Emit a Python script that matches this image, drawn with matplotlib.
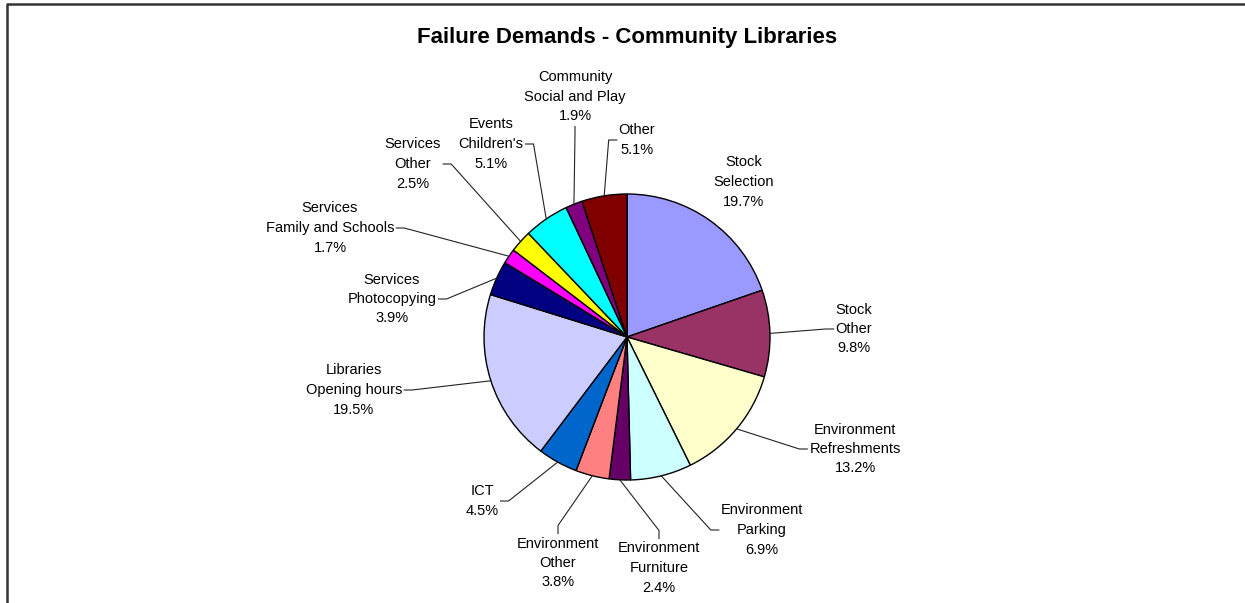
import numpy as np
import matplotlib.pyplot as plt

plt.rcParams['font.family'] = ['Liberation Sans', 'DejaVu Sans']

# slice names, shares (%) and colours, clockwise from 12 o'clock
names = ["Stock\nSelection", "Stock\nOther", "Environment\nRefreshments",
         "Environment\nParking", "Environment\nFurniture", "Environment\nOther",
         "ICT", "Libraries\nOpening hours", "Services\nPhotocopying",
         "Services\nFamily and Schools", "Services\nOther", "Events\nChildren's",
         "Community\nSocial and Play", "Other"]
shares = [19.7, 9.8, 13.2, 6.9, 2.4, 3.8, 4.5, 19.5, 3.9, 1.7, 2.5, 5.1, 1.9, 5.1]
colors = ["#9999FF", "#993366", "#FFFFCC", "#CCFFFF", "#660066", "#FF8080",
          "#0066CC", "#CCCCFF", "#000080", "#FF00FF", "#FFFF00", "#00FFFF",
          "#800080", "#800000"]

# label centres in pixels (x, y from top) and which side the leader joins
label_xy = [(744, 182), (854, 329), (855, 449), (762, 530), (659, 568), (558, 563),
            (482, 501), (354, 390), (392, 299), (330, 228), (413, 164), (491, 144),
            (575, 97), (637, 140)]
leader_side = [None, 'left', 'left', 'left', 'top', 'top', 'right', 'right',
               'right', 'right', 'right', 'right', 'bottom', 'left']

W, H = 1245, 603
fig = plt.figure(figsize=(W / 100, H / 100), dpi=100)
ax = fig.add_axes([0, 0, 1, 1])

cx, cy, r = 627, H - 337, 143
wedges, _ = ax.pie(shares, colors=colors, startangle=90, counterclock=False,
                   center=(cx, cy), radius=r,
                   wedgeprops=dict(edgecolor='black', linewidth=1))
ax.set_xlim(0, W)
ax.set_ylim(0, H)
ax.set_aspect('auto')
ax.axis('off')

# chart frame (left and top edges visible)
ax.plot([7, 7, W], [0, H - 4, H - 4], color='#333333', lw=1.8, clip_on=False)

ax.text(cx, H - 38, "Failure Demands - Community Libraries", ha='center',
        va='center', fontsize=16, fontweight='bold')

texts = []
for name, val, (x, y) in zip(names, shares, label_xy):
    t = ax.text(x, H - y, f"{name}\n{val:.1f}%", ha='center', va='center',
                multialignment='center', fontsize=10.5, linespacing=1.5)
    texts.append(t)

fig.canvas.draw()
renderer = fig.canvas.get_renderer()
inv = ax.transData.inverted()

for w, t, side in zip(wedges, texts, leader_side):
    if side is None:
        continue
    bb = t.get_window_extent(renderer)
    (x0, y0), (x1, y1) = inv.transform([[bb.x0, bb.y0], [bb.x1, bb.y1]])
    mx, my = (x0 + x1) / 2, (y0 + y1) / 2
    ang = np.deg2rad((w.theta1 + w.theta2) / 2)
    px, py = cx + r * np.cos(ang), cy + r * np.sin(ang)
    if side == 'left':
        ex, ey = x0 - 2, my
        kx, ky = ex - 8, ey
    elif side == 'right':
        ex, ey = x1 + 2, my
        kx, ky = ex + 8, ey
    elif side == 'top':
        ex, ey = mx, y1 + 3
        kx, ky = ex, ey + 8
    else:
        ex, ey = mx, y0 - 3
        kx, ky = ex, ey - 8
    ax.plot([px, kx, ex], [py, ky, ey], color='#222222', lw=0.8)

fig.savefig('out.png', dpi=100)
plt.close(fig)
